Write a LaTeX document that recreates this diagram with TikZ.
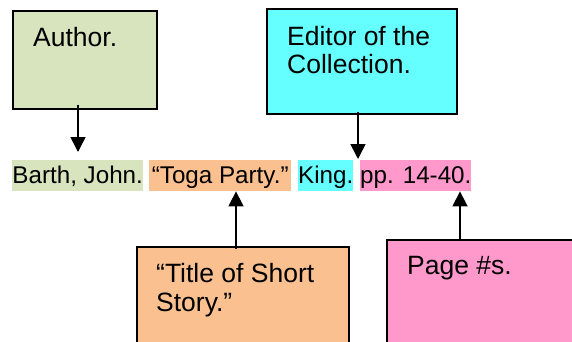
\documentclass[tikz,border=0pt]{standalone}
\usepackage{fontspec}
\setmainfont{Liberation Sans}
\usetikzlibrary{arrows.meta}
\definecolor{cgreen}{HTML}{D7E4BD}
\definecolor{ccyan}{HTML}{66FFFF}
\definecolor{corange}{HTML}{FAC090}
\definecolor{cpink}{HTML}{FF99CC}
\tikzset{
  box/.style={draw=black, line width=1.6pt, rectangle, inner sep=0pt, anchor=north west},
  txt/.style={inner sep=0pt, anchor=base west, font=\fontsize{26.5}{28}\selectfont},
  hl/.style={inner xsep=0pt, inner ysep=3pt, text height=20pt, text depth=5pt, anchor=north west, font=\fontsize{24.2}{28}\selectfont},
  arr/.style={line width=1.6pt, -{Triangle[width=15pt,length=15pt]}}
}
\begin{document}
\begin{tikzpicture}[x=1pt,y=-1pt]
\useasboundingbox (0,0) rectangle (572,341);
\clip (0,0) rectangle (572,341);
% top boxes
\node[box, fill=cgreen, minimum width=144pt, minimum height=98pt] (author) at (12,10) {};
\node[txt] (authortxt) at (33,46) {Author.};
\node[box, fill=ccyan, minimum width=190pt, minimum height=105pt] (editor) at (266,8) {};
\node[txt] (editortxt1) at (287,45) {Editor of the};
\node[txt] (editortxt2) at (287,73) {Collection.};
% bottom boxes
\node[box, fill=corange, minimum width=212pt, minimum height=110pt] (title) at (136,246) {};
\node[txt] (titletxt1) at (156,282) {“Title of Short};
\node[txt] (titletxt2) at (156,311) {Story.”};
\node[box, fill=cpink, minimum width=200pt, minimum height=115pt] (page) at (386,239) {};
\node[txt] (pagetxt) at (407,274) {Page \#s.};
% citation line
\node[hl, fill=cgreen, minimum width=131pt] (barth) at (12,160) {Barth, John.};
\node[hl, fill=corange, minimum width=142pt] (toga) at (149,160) {“Toga Party.”};
\node[hl, fill=ccyan, minimum width=55pt] (king) at (298,160) {King.};
\node[hl, fill=cpink, minimum width=110pt] (pp) at (360,160) {pp. 14-40.};
% arrows
\draw[arr, shorten <=-5pt, shorten >=8pt] (author.south -| 78,0) -- (barth.north -| 78,0);
\draw[arr, shorten <=-3pt, shorten >=1pt] (editor.south -| 358,0) -- (king.north -| 358,0);
\draw[arr, shorten <=-3pt] (title.north -| 236,0) -- (toga.south -| 236,0);
\draw[arr] (page.north -| 460,0) -- (pp.south -| 460,0);
\end{tikzpicture}
\end{document}
